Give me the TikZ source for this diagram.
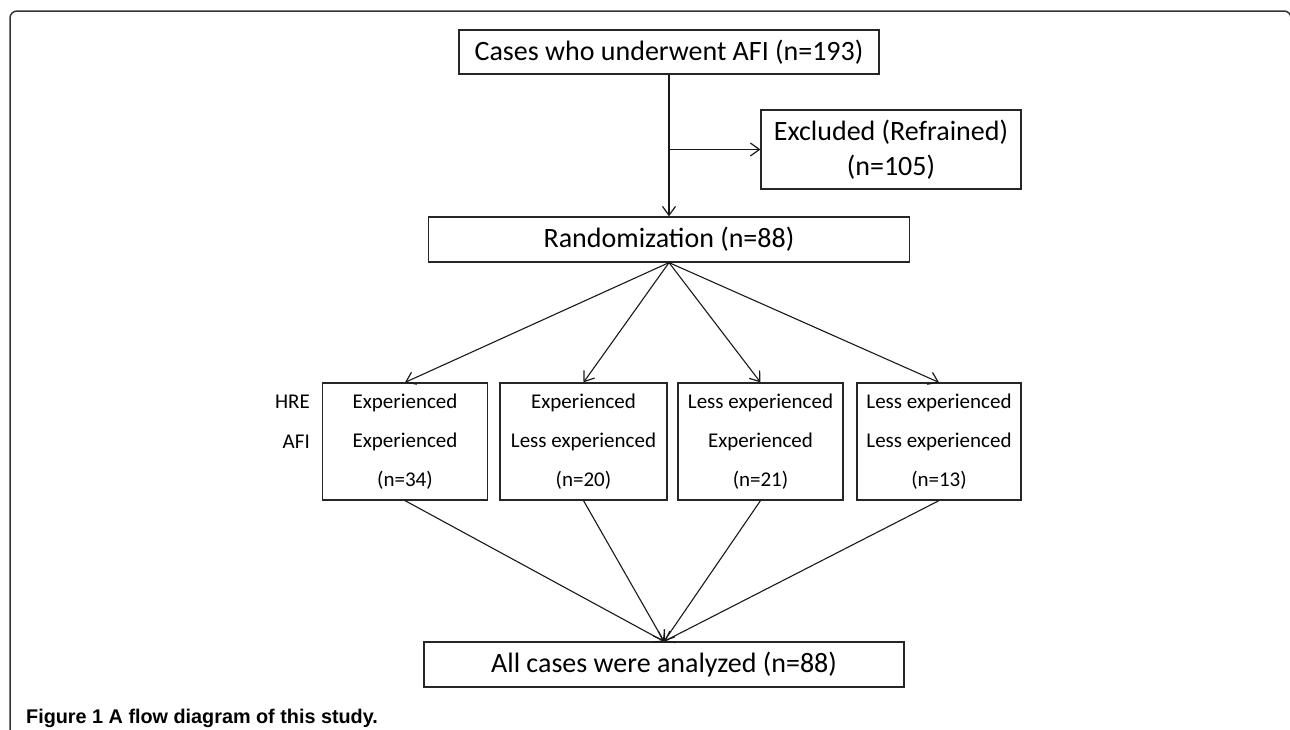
\documentclass[tikz,border=0pt]{standalone}
\usepackage{fontspec}
\setmainfont{Carlito}
\newfontfamily\capfont{Liberation Sans}
\usetikzlibrary{arrows.meta}
\begin{document}
\begin{tikzpicture}[x=1pt,y=-1pt,
 box/.style={draw=black!85, line width=1.2pt, inner sep=0pt, align=center},
 conn/.style={line width=1.1pt, draw=black!90},
 arr/.style={conn, -{Straight Barb[length=9pt,width=13pt,line width=1.2pt]}},
 big/.style={font=\fontsize{28}{34}\selectfont},
 grp/.style={box, minimum width=165pt, minimum height=117pt, font=\fontsize{21}{39}\selectfont},
 lab/.style={font=\fontsize{21}{25}\selectfont, anchor=east, inner sep=0pt}]
\useasboundingbox (0,0) rectangle (1290,729);
\draw[line width=1.5pt, black!80, rounded corners=7pt] (10,740) -- (10,11) -- (1291,11) -- (1291,40);

\node[box,big, minimum width=420pt, minimum height=44pt] (cases) at (669,52) {Cases who underwent AFI (n=193)};
\node[box, font=\fontsize{28}{35}\selectfont, minimum width=260pt, minimum height=79pt] (excl) at (891,149.5) {Excluded (Refrained)\\(n=105)};
\node[box,big, minimum width=481pt, minimum height=45pt] (rand) at (669,239.5) {Randomization (n=88)};
\node[grp] (g1) at (405,441.5) {Experienced\\Experienced\\(n=34)};
\node[grp, minimum width=167pt] (g2) at (583.5,441.5) {Experienced\\Less experienced\\(n=20)};
\node[grp] (g3) at (760.5,441.5) {Less experienced\\Experienced\\(n=21)};
\node[grp, minimum width=164pt] (g4) at (939,441.5) {Less experienced\\Less experienced\\(n=13)};
\node[box,big, minimum width=480pt, minimum height=45pt] (all) at (664,664.5) {All cases were analyzed (n=88)};
\node[lab] (hre) at (310,402) {HRE};
\node[lab] (afi) at (310,442) {AFI};
\node[anchor=base west, inner sep=0pt, font=\capfont\bfseries\fontsize{19.8}{24}\selectfont] (cap) at (26,723) {Figure 1 A flow diagram of this study.};

\draw[arr] (cases.south) -- (rand.north);
\coordinate (br) at (cases.south |- excl.west);
\draw[arr] (br) -- (excl.west);
\foreach \g in {g1,g2,g3,g4} {
  \draw[arr] (rand.south) -- (\g.north);
  \draw[arr] (\g.south) -- (all.north);
}
\end{tikzpicture}
\end{document}
